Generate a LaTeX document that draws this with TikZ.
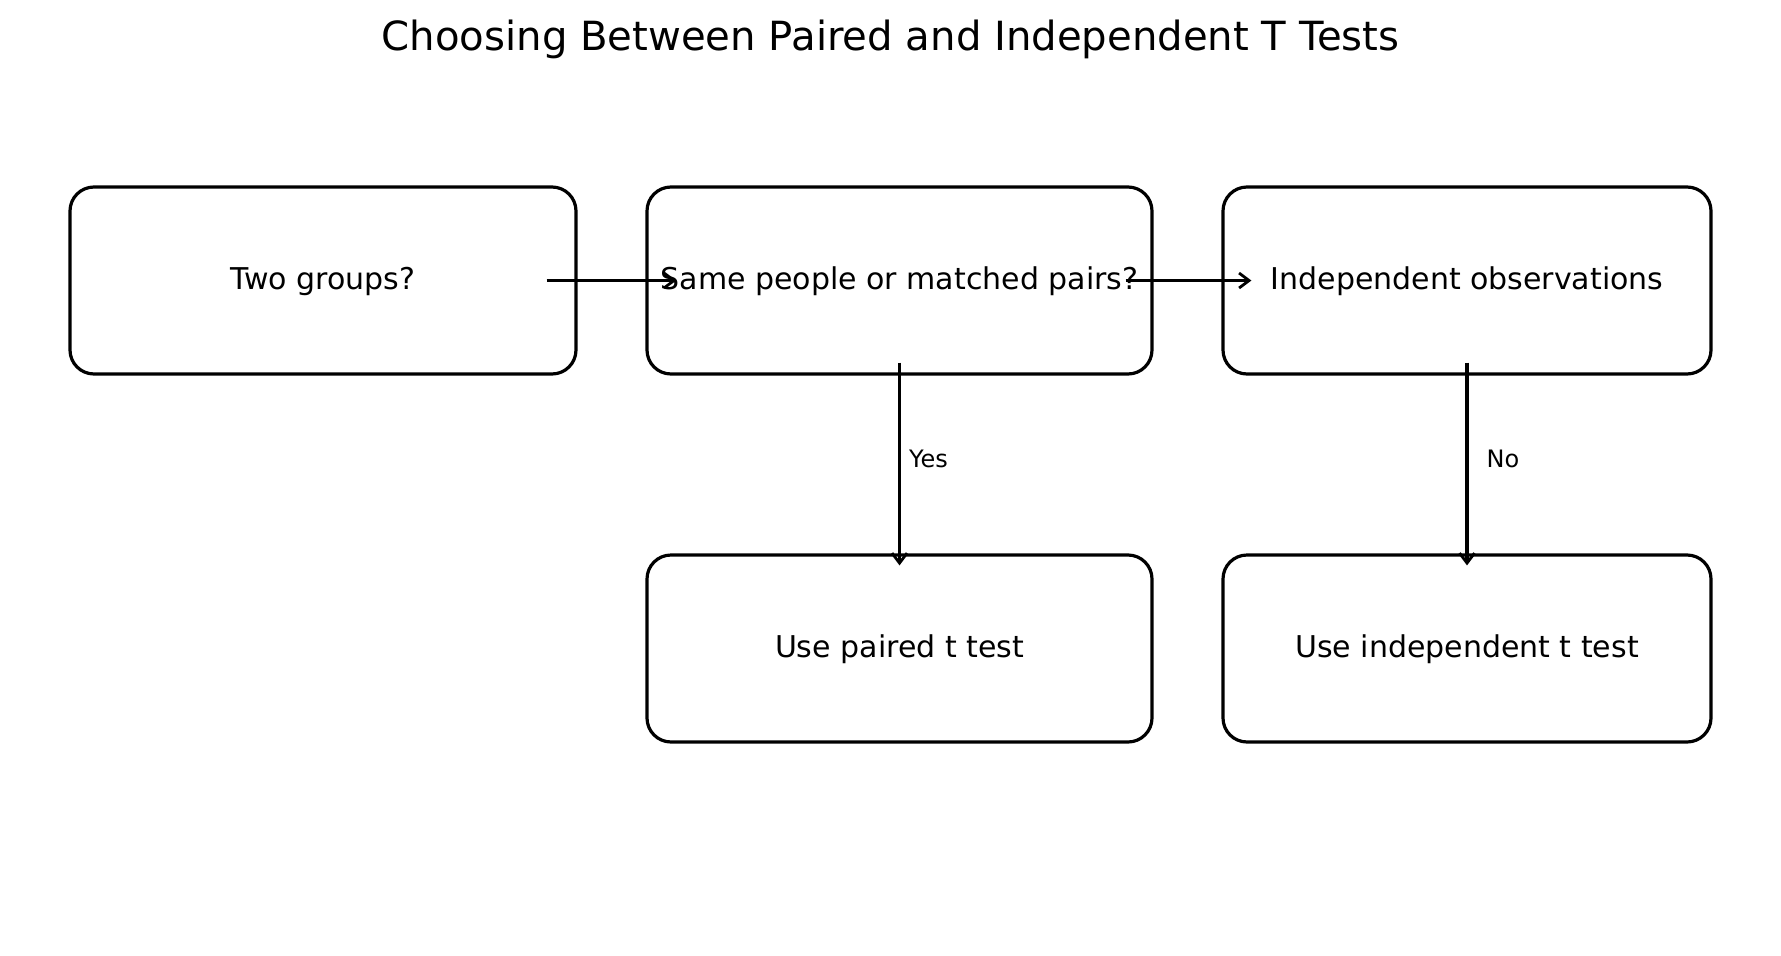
\documentclass[tikz,border=0pt]{standalone}
\usepackage{fontspec}
\setmainfont{DejaVu Sans}
\usetikzlibrary{arrows.meta}
\tikzset{
  box/.style={draw=black, line width=3.2pt, rounded corners=24pt, minimum height=187pt, inner sep=0pt, text height=24pt, text depth=5.2pt, font=\fontsize{30}{35}\selectfont},
  conn/.style={draw=black, line width=3.2pt, -{Straight Barb[length=10pt,width=15pt,line width=2.8pt]}},
  lab/.style={font=\fontsize{24}{28}\selectfont, anchor=west, inner sep=0pt}
}
\begin{document}
\begin{tikzpicture}[x=1pt,y=-1pt]
\useasboundingbox (0,0) rectangle (1781,956);
\node[font=\fontsize{40.2}{46}\selectfont] (title) at (890.5,39) {Choosing Between Paired and Independent T Tests};
\node[box, minimum width=506pt] (b1) at (323,280.5) {Two groups?};
\node[box, minimum width=505pt] (b2) at (899.5,280.5) {Same people or matched pairs?};
\node[box, minimum width=488pt] (b3) at (1467,280.5) {Independent observations};
\node[box, minimum width=505pt] (b4) at (899.5,648.5) {Use paired t test};
\node[box, minimum width=488pt] (b5) at (1467,648.5) {Use independent t test};
\draw[conn] ([xshift=-31pt]b1.east) -- ([xshift=31pt]b2.west);
\draw[conn] ([xshift=-28pt]b2.east) -- ([xshift=30pt]b3.west);
\draw[conn] ([yshift=13pt]b2.south) -- ([yshift=-12pt]b4.north) node[lab, pos=0.5, xshift=8pt, yshift=5pt] {Yes};
\draw[conn] ([yshift=13pt]b3.south) -- ([yshift=-12pt]b5.north) node[lab, pos=0.5, xshift=18pt, yshift=5pt] {No};
\end{tikzpicture}
\end{document}
